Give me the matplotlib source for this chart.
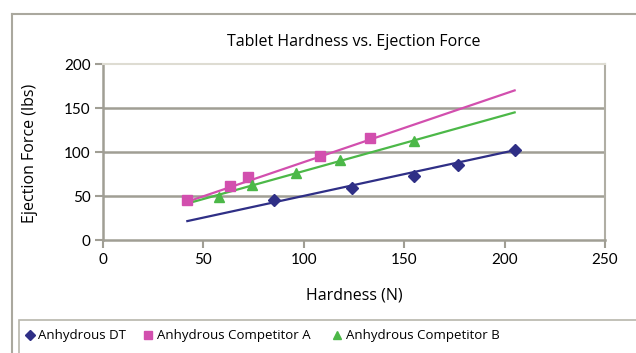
import matplotlib
matplotlib.use("Agg")
import matplotlib.pyplot as plt
from matplotlib.lines import Line2D
from matplotlib.patches import Rectangle

# Data
dt_x = [85, 124, 155, 177, 205]
dt_y = [45, 59, 73, 85, 102]
a_x = [42, 63, 72, 108, 133]
a_y = [46, 61, 72, 95, 116]
b_x = [58, 74, 96, 118, 155]
b_y = [49, 63, 76, 91, 112]

# Trendline end points (x range and y values)
trend_x = [42, 205]
dt_trend = [21.5, 102]
a_trend = [43.5, 170]
b_trend = [41.5, 145]

x_ticks = [0, 50, 100, 150, 200, 250]
y_ticks = [0, 50, 100, 150, 200]

c_dt = "#2f2f86"
c_a = "#d24fae"
c_b = "#4cb848"
grid_c = "#a09e94"

fig = plt.figure(figsize=(6.36, 3.53), dpi=100)
fig.patch.set_facecolor("white")

# outer frame lines
fig.add_artist(Line2D([12/636, 12/636], [0, 1 - 14/353], transform=fig.transFigure,
                      color="#aaa89e", lw=1.5))
fig.add_artist(Line2D([12/636, 1], [1 - 14/353, 1 - 14/353], transform=fig.transFigure,
                      color="#aaa89e", lw=1.5))
# legend box
fig.add_artist(Rectangle((19/636, -0.01), 1.0, (353 - 320) / 353 + 0.01, transform=fig.transFigure,
                         facecolor="white", edgecolor="#b8b6ac", lw=1.2))

ax = fig.add_axes([103/636, 113/353, 502/636, 176/353])
ax.set_xlim(0, 250)
ax.set_ylim(0, 200)
ax.set_xticks(x_ticks)
ax.set_yticks(y_ticks)

for v in y_ticks[1:-1]:
    ax.axhline(v, color=grid_c, lw=1.8, zorder=1)

ax.plot(trend_x, dt_trend, color=c_dt, lw=1.6, zorder=3)
ax.plot(trend_x, a_trend, color=c_a, lw=1.6, zorder=3)
ax.plot(trend_x, b_trend, color=c_b, lw=1.6, zorder=3)
ax.plot(dt_x, dt_y, ls="none", marker="D", ms=6, color=c_dt, zorder=4)
ax.plot(a_x, a_y, ls="none", marker="s", ms=6.5, color=c_a, zorder=4)
ax.plot(b_x, b_y, ls="none", marker="^", ms=7, color=c_b, zorder=4)

for s in ["left", "bottom"]:
    ax.spines[s].set_color(grid_c)
    ax.spines[s].set_linewidth(1.8)
ax.spines["right"].set_color("#b0aea4")
ax.spines["right"].set_linewidth(1.5)
ax.spines["top"].set_color("#dedcd2")
ax.spines["top"].set_linewidth(1.5)

ax.tick_params(axis="both", colors=grid_c, width=1.5, length=6, labelcolor="black",
               labelsize=11, pad=3)
for lab in ax.get_xticklabels() + ax.get_yticklabels():
    lab.set_family("Lato")

fig.text(354/636, 1 - 42/353, "Tablet Hardness vs. Ejection Force", ha="center", va="center",
         fontsize=11.5, family="Open Sans")
fig.text(354/636, 1 - 296/353, "Hardness (N)", ha="center", va="center",
         fontsize=11.5, family="Open Sans")
fig.text(30/636, 1 - 153/353, "Ejection Force (lbs)", ha="center", va="center",
         rotation=90, fontsize=11.5, family="Open Sans")

# legend entries
leg_y = 1 - 335/353
entries = [(30, "D", c_dt, 5, "Anhydrous DT", 38),
           (148, "s", c_a, 5.5, "Anhydrous Competitor A", 157),
           (337, "^", c_b, 6, "Anhydrous Competitor B", 346)]
for mx, m, c, ms, label, tx in entries:
    fig.add_artist(Line2D([mx/636], [leg_y], transform=fig.transFigure, marker=m,
                          color=c, ms=ms, ls="none"))
    fig.text(tx/636, leg_y, label, ha="left", va="center", fontsize=9.5, family="Open Sans")

fig.savefig("out.png", dpi=100, facecolor="white")
